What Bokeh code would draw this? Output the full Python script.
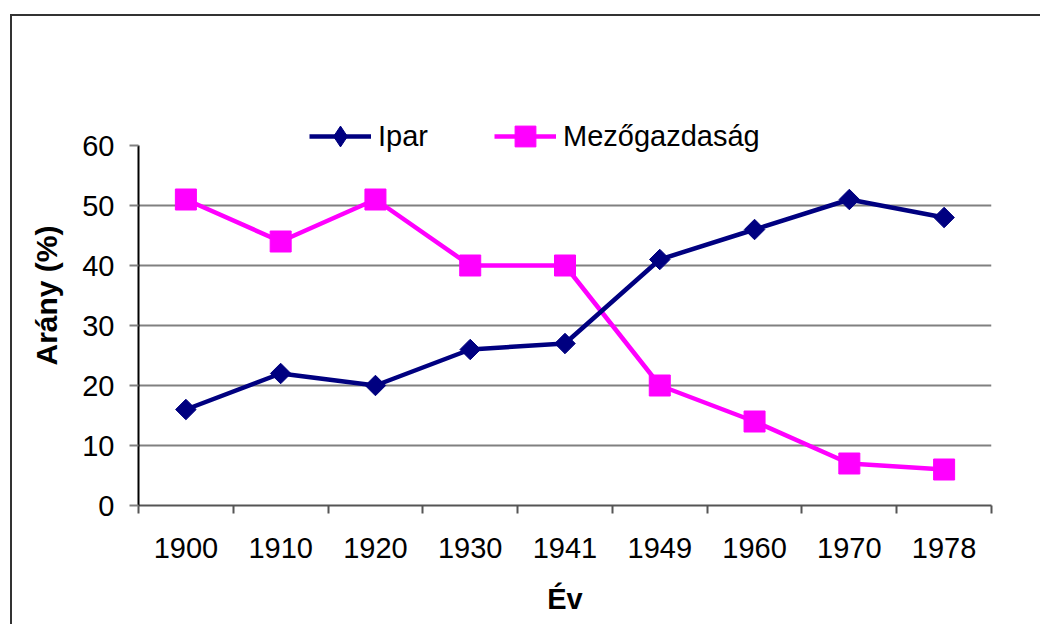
import math
from bokeh.plotting import figure
from bokeh.models import FixedTicker, Legend, LegendItem, ColumnDataSource, Range1d
from bokeh.embed import file_html
from bokeh.resources import INLINE

years = ["1900", "1910", "1920", "1930", "1941", "1949", "1960", "1970", "1978"]
ipar = [16, 22, 20, 26, 27, 41, 46, 51, 48]
mezo = [51, 44, 51, 40, 40, 20, 14, 7, 6]
y_ticks = [0, 10, 20, 30, 40, 50, 60]
grid_ticks = [10, 20, 30, 40, 50]

NAVY = "#000080"
MAGENTA = "#FF00FF"
FONT = "Liberation Sans"

pos = [i + 0.5 for i in range(len(years))]
bounds = list(range(len(years) + 1))

src = ColumnDataSource(dict(x=pos, year=years, ipar=ipar, mezo=mezo))

# y range extends above 60 so the legend (drawn above the axis top) is not clipped
p = figure(width=1030, height=610, output_backend="svg", toolbar_location=None,
           x_range=Range1d(0, len(years)), y_range=Range1d(0, 70),
           min_border_left=126, min_border_right=51, min_border_top=69,
           min_border_bottom=121)
# range used only by the legend's marker proxy (its points fall outside the frame)
p.extra_y_ranges = {"legend_proxy": Range1d(1000, 2000)}
p.outline_line_color = None
p.margin = (14, 0, 0, 10)
p.styles = {"border-left": "2px solid #333333", "border-top": "2px solid #333333"}

# y axis
ya = p.yaxis[0]
ya.bounds = (0, 60)
ya.ticker = FixedTicker(ticks=y_ticks, minor_ticks=[])
ya.axis_line_color = "black"
ya.axis_line_width = 2
ya.major_tick_line_color = "#808080"
ya.major_tick_line_width = 2
ya.major_tick_out = 9
ya.major_tick_in = 0
ya.minor_tick_line_color = None
ya.major_label_standoff = 15
ya.major_label_text_font = FONT
ya.major_label_text_font_size = "29px"
ya.major_label_text_color = "black"
ya.axis_label = "Arány (%)"
ya.axis_label_text_font = FONT
ya.axis_label_text_font_style = "bold"
ya.axis_label_text_font_size = "30px"
ya.axis_label_text_color = "black"
ya.axis_label_standoff = 16

# x axis
xa = p.xaxis[0]
xa.ticker = FixedTicker(ticks=pos, minor_ticks=bounds)
xa.major_label_overrides = {pv: yv for pv, yv in zip(pos, years)}
xa.axis_line_color = "#555555"
xa.axis_line_width = 2
xa.major_tick_line_color = None
xa.major_tick_out = 0
xa.major_tick_in = 0
xa.minor_tick_line_color = "#555555"
xa.minor_tick_line_width = 2
xa.minor_tick_out = 8
xa.minor_tick_in = 0
xa.major_label_standoff = 24
xa.major_label_text_font = FONT
xa.major_label_text_font_size = "29px"
xa.major_label_text_color = "black"
xa.axis_label = "Év"
xa.axis_label_text_font = FONT
xa.axis_label_text_font_style = "bold"
xa.axis_label_text_font_size = "29px"
xa.axis_label_text_color = "black"
xa.axis_label_standoff = 22

p.xgrid.visible = False
p.ygrid.ticker = FixedTicker(ticks=grid_ticks, minor_ticks=[])
p.ygrid.grid_line_color = "#808080"
p.ygrid.grid_line_width = 2

# series
l_mezo = p.line("x", "mezo", source=src, line_color=MAGENTA, line_width=4.5)
s_mezo = p.scatter("x", "mezo", source=src, marker="square", size=21,
                   fill_color=MAGENTA, line_color=MAGENTA)
l_ipar = p.line("x", "ipar", source=src, line_color=NAVY, line_width=4.5)
s_ipar = p.scatter("x", "ipar", source=src, marker="square", angle=math.pi / 4,
                   size=14.5, fill_color=NAVY, line_color=NAVY)

# diamond marker for the legend entry (legend ignores the marker angle)
d_ipar = p.scatter("x", "ipar", source=src, y_range_name="legend_proxy",
                   marker="diamond", fill_color=NAVY, line_color=NAVY)

legend = Legend(items=[LegendItem(label="Ipar", renderers=[l_ipar, d_ipar]),
                       LegendItem(label="Mezőgazdaság", renderers=[l_mezo, s_mezo])],
                orientation="horizontal", location=(171, 343),
                glyph_width=62, glyph_height=52, label_standoff=7, spacing=66,
                padding=0, margin=0, border_line_color=None,
                background_fill_alpha=0,
                label_text_font=FONT, label_text_font_size="29px",
                label_text_color="black")
p.add_layout(legend)

open("out.html", "w").write(file_html(p, INLINE))
